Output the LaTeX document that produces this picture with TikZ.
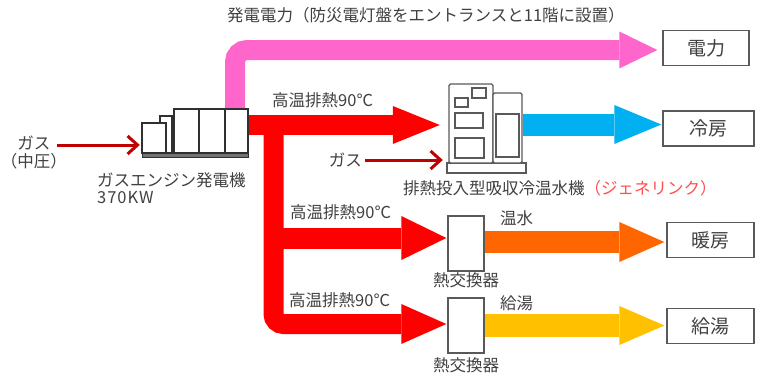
\documentclass[tikz,border=0pt]{standalone}
\usepackage{fontspec}
\setmainfont{Noto Sans CJK JP}
\usetikzlibrary{arrows.meta,calc}

\definecolor{txt}{HTML}{404040}
\definecolor{powerpink}{HTML}{FF66CC}
\definecolor{heatred}{HTML}{FF0000}
\definecolor{coolblue}{HTML}{00B0F0}
\definecolor{hotorange}{HTML}{FF6600}
\definecolor{tapyellow}{HTML}{FFC000}
\definecolor{gasred}{HTML}{C00000}
\definecolor{brandred}{HTML}{FF4D4D}
\definecolor{edge}{HTML}{595959}
\definecolor{machine}{HTML}{303030}

\newcommand\labfont{\fontsize{16.5}{19}\selectfont}
\newcommand\boxfont{\fontsize{19}{22}\selectfont}

\tikzset{
  label text/.style={text=txt, inner sep=0pt, font=\labfont},
  endbox/.style={draw=edge, line width=1.3pt, fill=white, inner sep=0pt,
    minimum width=88pt, minimum height=35pt, text=txt, font=\boxfont},
  hxbox/.style={draw=edge, line width=1.3pt, fill=white, inner sep=0pt,
    minimum width=36pt, minimum height=55pt},
  part/.style={draw=machine, line width=1.2pt, fill=white},
  flow/.style={line width=#1, line join=miter},
  gasline/.style={draw=gasred, line width=3pt,
    -{Straight Barb[length=10pt,width=18pt,line width=3pt]}},
}

\begin{document}
\begin{tikzpicture}[x=1pt,y=-1pt]
\useasboundingbox (0,0) rectangle (761,383);

% ---- outlines of the two machines (used as connection anchors) ----
\node[inner sep=0pt, minimum width=106pt, minimum height=48pt] (engine) at (195,133) {};
\node[inner sep=0pt, minimum width=79pt, minimum height=89pt] (chiller) at (486.5,128.5) {};

% ---- destination boxes ----
\node[endbox, minimum width=86pt] (power) at (706,48) {電力};
\node[endbox, minimum width=91pt] (cool) at (708.5,128.5) {冷房};
\node[endbox, minimum width=87pt] (heat) at (710.5,240) {暖房};
\node[endbox, minimum width=87pt] (tap) at (710.5,326) {給湯};

% ---- heat exchangers ----
\node[hxbox] (hx1) at (466,243.5) {};
\node[hxbox] (hx2) at (466,325.5) {};

% ---- electricity flow ----
\draw[powerpink, flow=20pt, rounded corners=12pt,
  -{Triangle[length=38pt,width=37pt,line width=0pt]}, shorten >=5pt]
  (engine.north -| 235,0) -- (235,50) -- (power.west |- 0,50);

% ---- exhaust heat flows ----
\draw[heatred, flow=20pt, -{Triangle[length=47pt,width=38pt,line width=0pt]},
  shorten >=7pt]
  (engine.east |- 0,125) -- (chiller.west |- 0,125);
\draw[heatred, flow=20pt, rounded corners=10pt,
  -{Triangle[length=45pt,width=40pt,line width=0pt]}, shorten >=1pt]
  (273.5,125) -- (273.5,324) -- (hx2.west |- 0,324);
\draw[heatred, flow=21pt, -{Triangle[length=45pt,width=44pt,line width=0pt]},
  shorten >=1pt]
  (273.5,238) -- (hx1.west |- 0,238);

% ---- chilled / hot water flows ----
\draw[coolblue, flow=22pt, -{Triangle[length=47pt,width=39pt,line width=0pt]},
  shorten >=1pt]
  ($(chiller.east |- 0,124.5)+(-3,0)$) -- (cool.west |- 0,124.5);
\draw[hotorange, flow=22pt, -{Triangle[length=45pt,width=40pt,line width=0pt]},
  shorten >=2pt]
  (hx1.east |- 0,242) -- (heat.west |- 0,242);
\draw[tapyellow, flow=23pt, -{Triangle[length=45pt,width=39pt,line width=0pt]},
  shorten >=2pt]
  (hx2.east |- 0,325.5) -- (tap.west |- 0,325.5);

% ---- gas engine generator ----
\draw[machine, line width=1pt, fill=black!55] (142,153) rectangle (248,157.5);
\draw[part] (163,119) rectangle (175,153);
\draw[part] (160,116) rectangle (172,153);
\draw[part] (142,123) rectangle (166,153);
\draw[part] (174,109) rectangle (199,153);
\draw[part] (199,109) rectangle (225,153);
\draw[part] (225,109) rectangle (248,153);

% ---- absorption chiller-heater ----
\draw[part, draw=machine!80] (447,163) rectangle (526,173);
\draw[part, draw=machine!80, rounded corners=1.5pt] (449,84) rectangle (493,163);
\draw[part, draw=machine!80, rounded corners=1.5pt] (493,93) rectangle (522,163);
\draw[part, draw=machine!80] (472,88) rectangle (486,98);
\draw[part, draw=machine!80] (455,98) rectangle (468,107);
\draw[part, draw=machine!80] (455,113) rectangle (483,128);
\draw[part, draw=machine!80] (455,138) rectangle (484,158);
\draw[part, draw=machine!80] (496,114) rectangle (519,157);

% ---- gas supply ----
\node[label text, align=center] (gasin) at (34,152.5) {ガス\\[-1pt]（中圧）};
\node[label text, anchor=east] (gasb) at (362,160) {ガス};
\draw[gasline, shorten >=2pt] (57,145) -- (engine.west |- 0,145);
\draw[gasline, shorten >=4pt] (gasb.east) ++(3,0) coordinate (gbs)
  (gbs) -- (chiller.west |- 0,160);

% ---- labels ----
\node[label text, anchor=west] (title) at (227,15)
  {発電電力（防災電灯盤をエントランスと11階に設置）};
\node[label text, anchor=west] (eh1) at (272,100) {高温排熱90℃};
\node[label text, anchor=west] (eh2) at (290,212) {高温排熱90℃};
\node[label text, anchor=west] (eh3) at (289,300) {高温排熱90℃};
\node[label text, anchor=west] (englab) at (97,180) {ガスエンジン発電機};
\node[label text, anchor=west] (engkw) at (97,198) {\addfontfeature{LetterSpace=6}370KW};
\node[label text, anchor=west] (chlab) at (403,188)
  {排熱投入型吸収冷温水機\textcolor{brandred}{（ジェネリンク）}};
\node[label text, anchor=west] (hwlab) at (500,218) {温水};
\node[label text, anchor=west] (twlab) at (500,303) {給湯};
\node[label text] (hx1lab) at (hx1.south |- 0,280) {熱交換器};
\node[label text] (hx2lab) at (hx2.south |- 0,365) {熱交換器};
\end{tikzpicture}
\end{document}
